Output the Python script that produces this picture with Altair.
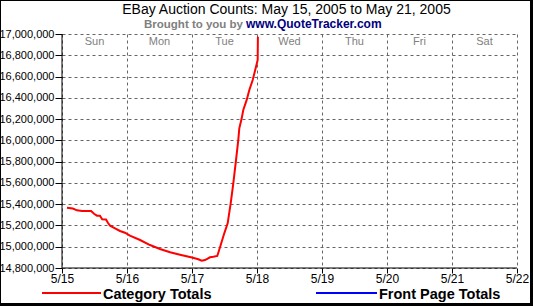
import altair as alt
import pandas as pd

# ---- data ----
times = [
    "2005-05-15T01:50:00", "2005-05-15T04:00:00", "2005-05-15T05:30:00", "2005-05-15T07:25:00",
    "2005-05-15T10:45:00", "2005-05-15T11:50:00", "2005-05-15T12:55:00", "2005-05-15T14:00:00",
    "2005-05-15T14:50:00", "2005-05-15T16:15:00", "2005-05-15T17:00:00", "2005-05-15T17:45:00",
    "2005-05-15T19:35:00", "2005-05-15T21:25:00", "2005-05-15T23:15:00", "2005-05-16T01:05:00",
    "2005-05-16T04:50:00", "2005-05-16T08:30:00", "2005-05-16T12:10:00", "2005-05-16T15:55:00",
    "2005-05-16T19:35:00", "2005-05-17T00:00:00", "2005-05-17T02:20:00", "2005-05-17T03:35:00",
    "2005-05-17T04:48:00", "2005-05-17T06:39:00", "2005-05-17T07:52:00", "2005-05-17T09:20:00",
    "2005-05-17T10:36:00", "2005-05-17T11:55:00", "2005-05-17T13:10:00", "2005-05-17T14:17:00",
    "2005-05-17T15:15:00", "2005-05-17T16:15:00", "2005-05-17T17:05:00", "2005-05-17T17:28:00",
    "2005-05-17T18:21:00", "2005-05-17T18:56:00", "2005-05-17T20:12:00", "2005-05-17T21:10:00",
    "2005-05-17T22:25:00", "2005-05-17T23:38:00", "2005-05-18T00:15:00", "2005-05-18T00:20:00",
]
category_totals = [
    15367000, 15359000, 15342000, 15336000,
    15336000, 15310000, 15292000, 15292000,
    15258000, 15256000, 15223000, 15198000,
    15173000, 15148000, 15132000, 15104000,
    15063000, 15016000, 14979000, 14948000,
    14925000, 14898000, 14882000, 14869000,
    14875000, 14901000, 14906000, 14913000,
    15016000, 15126000, 15220000, 15408000,
    15596000, 15815000, 16003000, 16113000,
    16207000, 16286000, 16380000, 16474000,
    16568000, 16693000, 16756000, 16975000,
]
day_names = ["Sun", "Mon", "Tue", "Wed", "Thu", "Fri", "Sat"]
day_mids = ["2005-05-15T12:00:00", "2005-05-16T12:00:00", "2005-05-17T12:00:00",
            "2005-05-18T12:00:00", "2005-05-19T12:00:00", "2005-05-20T12:00:00",
            "2005-05-21T12:00:00"]
tick_days = [15, 16, 17, 18, 19, 20, 21, 22]
y_ticks = [14800000, 15000000, 15200000, 15400000, 15600000, 15800000,
           16000000, 16200000, 16400000, 16600000, 16800000, 17000000]

title_text = "EBay Auction Counts: May 15, 2005 to May 21, 2005"
sub_gray = "Brought to you by"
sub_blue = "www.QuoteTracker.com"
legend_labels = ["Category Totals", "Front Page Totals"]

W, H = 455, 234
FONT = "Liberation Sans"

line_df = pd.DataFrame({"time": times, "count": category_totals})
day_df = pd.DataFrame({"time": day_mids, "day": day_names})
one = pd.DataFrame({"k": [0]})

x_dom = [alt.DateTime(year=2005, month=5, date=15), alt.DateTime(year=2005, month=5, date=22)]
x_vals = [alt.DateTime(year=2005, month=5, date=d) for d in tick_days]

x_enc = alt.X("time:T",
              scale=alt.Scale(domain=x_dom),
              axis=alt.Axis(values=x_vals, format="%-m/%-d", title=None,
                            grid=True, gridColor="#666666", gridDash=[3, 3], gridWidth=1,
                            domain=False, tickSize=5, tickColor="black",
                            labelFont=FONT, labelFontSize=12, labelColor="black",
                            labelPadding=0, labelFlush=False, labelOverlap=False))
y_enc = alt.Y("count:Q",
              scale=alt.Scale(domain=[14800000, 17000000], nice=False, zero=False),
              axis=alt.Axis(values=y_ticks, format=",.0f", title=None,
                            grid=True, gridColor="#666666", gridDash=[3, 3], gridWidth=1,
                            domain=False, tickSize=7, tickColor="black",
                            labelFont=FONT, labelFontSize=11, labelColor="black",
                            labelPadding=1, labelOverlap=False))

line = alt.Chart(line_df).mark_line(color="#ff0000", strokeWidth=2).encode(x=x_enc, y=y_enc)

days = alt.Chart(day_df).mark_text(font=FONT, fontSize=11, color="#808080",
                                   baseline="middle").encode(
    x="time:T", y=alt.value(8), text="day:N")

base1 = alt.Chart(one)
left_axis = base1.mark_rule(color="black", strokeWidth=1).encode(
    x=alt.value(0), y=alt.value(0), y2=alt.value(H))
bottom_axis = base1.mark_rule(color="black", strokeWidth=1).encode(
    x=alt.value(0), x2=alt.value(W), y=alt.value(H))

title = base1.mark_text(font=FONT, fontSize=14, color="black", align="center",
                        baseline="alphabetic").encode(
    x=alt.value(224.5), y=alt.value(-20), text=alt.value(title_text))
sub1 = base1.mark_text(font=FONT, fontSize=11.5, fontWeight="bold", color="#808080",
                       align="left", baseline="alphabetic").encode(
    x=alt.value(82), y=alt.value(-6), text=alt.value(sub_gray))
sub2 = base1.mark_text(font=FONT, fontSize=12, fontWeight="bold", color="#000080",
                       align="left", baseline="alphabetic").encode(
    x=alt.value(184), y=alt.value(-6), text=alt.value(sub_blue))

leg_line1 = base1.mark_rule(color="#ff0000", strokeWidth=2).encode(
    x=alt.value(-20), x2=alt.value(39), y=alt.value(259))
leg_text1 = base1.mark_text(font=FONT, fontSize=14.5, fontWeight="bold", color="black",
                            align="left", baseline="alphabetic").encode(
    x=alt.value(41), y=alt.value(264.5), text=alt.value(legend_labels[0]))
leg_line2 = base1.mark_rule(color="#0000ff", strokeWidth=2).encode(
    x=alt.value(254), x2=alt.value(315), y=alt.value(259))
leg_text2 = base1.mark_text(font=FONT, fontSize=14.5, fontWeight="bold", color="black",
                            align="left", baseline="alphabetic").encode(
    x=alt.value(317), y=alt.value(264.5), text=alt.value(legend_labels[1]))

# outer frame (thin left/top, thick right/bottom)
frame_left = base1.mark_rect(color="black").encode(
    x=alt.value(-62), x2=alt.value(-61), y=alt.value(-34), y2=alt.value(272))
frame_top = base1.mark_rect(color="black").encode(
    x=alt.value(-62), x2=alt.value(471), y=alt.value(-34), y2=alt.value(-33))
frame_right = base1.mark_rect(color="black").encode(
    x=alt.value(468), x2=alt.value(471), y=alt.value(-34), y2=alt.value(272))
frame_bottom = base1.mark_rect(color="black").encode(
    x=alt.value(-62), x2=alt.value(471), y=alt.value(269), y2=alt.value(272))

chart = alt.layer(
    line, days, left_axis, bottom_axis, title, sub1, sub2,
    leg_line1, leg_text1, leg_line2, leg_text2,
    frame_left, frame_top, frame_right, frame_bottom,
).properties(
    width=W, height=H,
    autosize=alt.AutoSizeParams(type="none"),
    padding={"left": 62, "top": 34, "right": 16, "bottom": 38},
    background="white",
).configure_view(stroke=None)

chart.save("out.html", embed_options={"renderer": "svg", "actions": False})
